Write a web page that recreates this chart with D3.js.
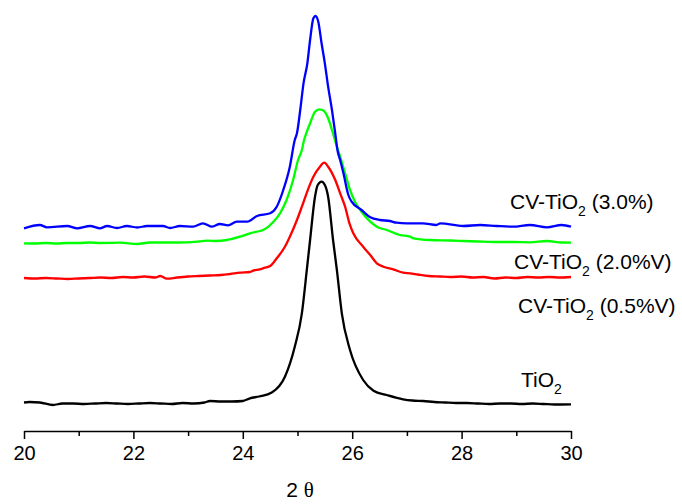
<!DOCTYPE html>
<html>
<head>
<meta charset="utf-8">
<script src="https://cdn.jsdelivr.net/npm/d3@7"></script>
<style>
  body { margin: 0; background: #fff; }
  svg { display: block; }
</style>
</head>
<body>
<svg id="chart" width="682" height="504"></svg>
<script>
////// data (2 theta, intensity a.u.) //////

var tio2X = [20.00, 20.10, 20.29, 20.53, 20.70, 20.90, 21.10, 21.30, 21.50, 21.70, 21.90, 22.10, 22.30, 22.50, 22.70, 22.90, 23.10, 23.30, 23.40, 23.60, 23.80, 24.00, 24.13, 24.30, 24.53, 24.77, 24.95, 25.08, 25.17, 25.23, 25.32, 25.37, 25.44, 25.50, 25.56, 25.65, 25.72, 25.81, 25.96, 26.20, 26.39, 26.63, 26.93, 27.10, 27.30, 27.50, 27.70, 27.90, 28.10, 28.30, 28.50, 28.70, 28.90, 29.10, 29.30, 29.50, 29.70, 30.00];
var tio2Y = [28.5, 29, 28.5, 26, 27.5, 27.5, 27, 27.5, 28, 27.5, 27, 27.5, 28, 27.5, 27, 28, 27.5, 28.5, 30, 29.5, 29.5, 30, 32.7, 34.5, 38.5, 54.3, 84.3, 117.7, 161, 191, 234.3, 246, 249.3, 246, 234.3, 191, 161, 117.7, 81, 51, 40.3, 36, 31.7, 30.5, 30, 29, 28.5, 28, 28, 27.5, 27, 27.5, 27.5, 27, 27.5, 27, 26.5, 26.7];

var cv05X = [20.00, 20.20, 20.40, 20.60, 20.80, 21.00, 21.20, 21.40, 21.60, 21.80, 22.00, 22.20, 22.40, 22.49, 22.61, 22.80, 23.00, 23.20, 23.40, 23.60, 23.77, 23.95, 24.13, 24.19, 24.31, 24.37, 24.50, 24.62, 24.77, 24.86, 24.99, 25.08, 25.20, 25.29, 25.41, 25.49, 25.56, 25.69, 25.78, 25.87, 25.95, 26.02, 26.20, 26.33, 26.45, 26.57, 26.75, 26.93, 27.06, 27.20, 27.40, 27.60, 27.80, 28.00, 28.20, 28.40, 28.60, 28.80, 29.00, 29.20, 29.40, 29.60, 29.80, 30.00];
var cv05Y = [153, 152.5, 153, 152.5, 152, 152.5, 153, 153.5, 153, 154, 153.5, 154.5, 153.5, 155, 152.3, 153.5, 154.5, 155, 155.5, 156, 157, 158.3, 159, 160.3, 161.7, 162.7, 165, 172.7, 184.3, 194.3, 211, 224.3, 242.7, 254.3, 264.3, 268.3, 264.3, 251, 237.7, 224.3, 207.7, 197.7, 184.3, 176, 167.7, 164.3, 161.7, 158.3, 157.7, 156.5, 155, 154.5, 154, 154.5, 153.5, 154, 152.5, 153.5, 153, 154, 153.5, 154, 153.5, 154];

var cv20X = [20.00, 20.20, 20.40, 20.60, 20.80, 21.00, 21.20, 21.40, 21.76, 22.07, 22.30, 22.60, 22.98, 23.20, 23.35, 23.50, 23.71, 23.77, 23.95, 24.13, 24.31, 24.37, 24.56, 24.68, 24.80, 24.92, 25.01, 25.08, 25.12, 25.16, 25.23, 25.32, 25.40, 25.48, 25.56, 25.64, 25.72, 25.78, 25.87, 25.96, 26.05, 26.17, 26.33, 26.45, 26.63, 26.87, 27.06, 27.12, 27.42, 27.80, 28.03, 28.30, 28.64, 28.94, 29.25, 29.56, 29.83, 30.00];
var cv20Y = [187.7, 187.5, 188, 187.5, 188, 188, 188.5, 188, 188.3, 187, 188.5, 188.5, 188.7, 189.5, 190.3, 190, 191, 191.7, 194.3, 197.7, 200, 201, 209.3, 217.7, 231, 251, 271, 281, 291, 297.7, 307.7, 319.3, 321.7, 320.3, 312.7, 299.3, 284.3, 274.3, 257.7, 241, 229.3, 219.3, 209.3, 204.3, 201, 196, 194.3, 192.7, 191, 190.5, 190, 189.5, 189, 189, 188.7, 190, 188.5, 188.3];

var cv30X = [20.00, 20.29, 20.42, 20.79, 20.97, 21.21, 21.39, 21.52, 21.70, 21.88, 22.07, 22.25, 22.54, 22.67, 22.85, 23.09, 23.27, 23.44, 23.58, 23.73, 23.89, 24.08, 24.26, 24.50, 24.62, 24.74, 24.86, 24.95, 24.99, 25.05, 25.11, 25.18, 25.23, 25.29, 25.33, 25.38, 25.44, 25.50, 25.56, 25.63, 25.69, 25.73, 25.78, 25.84, 25.93, 25.99, 26.17, 26.33, 26.51, 26.69, 26.81, 27.00, 27.29, 27.54, 27.61, 28.03, 28.34, 28.64, 28.94, 29.25, 29.56, 29.83, 30.00];
var cv30Y = [202.7, 206, 203.7, 205, 202.7, 205, 202.7, 205, 203, 205, 203.5, 205, 205, 203, 205, 204.3, 207.7, 204.3, 207, 205.7, 209.3, 209.3, 215, 217.7, 224.3, 241, 264.3, 291, 297.7, 321, 347.7, 367.7, 391, 412.7, 415, 409.3, 387.7, 367.7, 344.3, 321, 297.7, 281, 271, 257.7, 236, 229.3, 221, 213.7, 211, 210, 208.3, 207.7, 207.7, 206, 207.7, 205, 206, 205, 204.3, 206, 203.7, 206, 204.3];

var seriesColors = ["#000000", "#ff0000", "#00ff00", "#0000ff"];
var xTicks = [20, 22, 24, 26, 28, 30];

var svg = d3.select("#chart");

var x = d3.scaleLinear().domain([20, 30]).range([24, 571]);
var y = d3.scaleLinear().domain([0, 431]).range([431, 0]);

var allX = [tio2X, cv05X, cv20X, cv30X];
var allY = [tio2Y, cv05Y, cv20Y, cv30Y];

var line = d3.line()
    .x(d => x(d[0]))
    .y(d => y(d[1]))
    .curve(d3.curveMonotoneX);

for (var i = 0; i < allX.length; i++) {
    var pts = allX[i].map((v, j) => [v, allY[i][j]]);
    svg.append("path")
        .datum(pts)
        .attr("fill", "none")
        .attr("stroke", seriesColors[i])
        .attr("stroke-width", 2.3)
        .attr("stroke-linejoin", "round")
        .attr("d", line);
}

////// x axis ///////
var axis = d3.axisBottom(x)
    .tickValues(d3.range(20, 30.01, 1))
    .tickSize(8)
    .tickSizeOuter(0)
    .tickFormat(d => xTicks.indexOf(d) >= 0 ? d : "");

var gx = svg.append("g")
    .attr("transform", "translate(0," + y(0) + ")")
    .call(axis);

gx.select(".domain").attr("stroke", "#000").attr("stroke-width", 1.5);
gx.selectAll(".tick line").attr("stroke", "#000").attr("stroke-width", 1.5)
    .attr("y2", d => xTicks.indexOf(d) >= 0 ? 8 : 5);
gx.selectAll(".tick text")
    .attr("fill", "#000")
    .attr("y", 15)
    .style("font-family", "Liberation Sans, Arial, sans-serif")
    .style("font-size", "20px");

svg.append("text")
    .attr("x", 300)
    .attr("y", 497)
    .attr("text-anchor", "middle")
    .style("font-family", "Liberation Sans, Arial, sans-serif")
    .style("font-size", "21px")
    .text("2 ")
    .append("tspan")
    .style("font-family", "Liberation Serif, Times New Roman, serif")
    .text("θ");

////// series labels with subscript 2 ///////
var labelPos = [[521, 387], [518, 313], [514, 269], [510, 209]];
var labelTail = ["", " (0.5%V)", " (2.0%V)", " (3.0%)"];
var labelHead = ["TiO", "CV-TiO", "CV-TiO", "CV-TiO"];

for (var k = 0; k < labelPos.length; k++) {
    var t = svg.append("text")
        .attr("x", labelPos[k][0])
        .attr("y", labelPos[k][1])
        .style("font-family", "Liberation Sans, Arial, sans-serif")
        .style("font-size", "21px")
        .attr("fill", "#000");
    t.append("tspan").text(labelHead[k]);
    t.append("tspan").attr("dy", 7).style("font-size", "14px").text("2");
    t.append("tspan").attr("dy", -7).text(labelTail[k]);
}
</script>
</body>
</html>
